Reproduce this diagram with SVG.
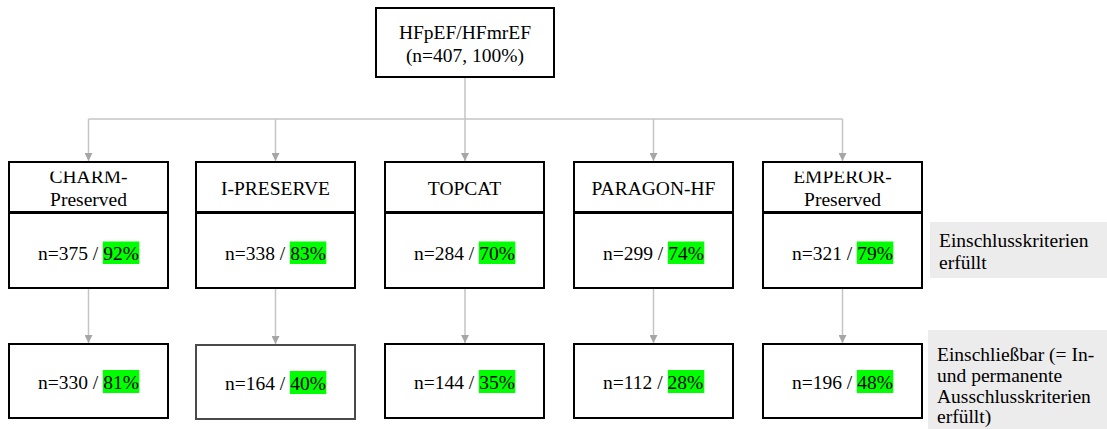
<svg xmlns="http://www.w3.org/2000/svg" width="1107" height="429" viewBox="0 0 1107 429">
  <defs>
    <style>
      .box { fill: #ffffff; stroke: #000000; stroke-width: 2; }
      .t { font-family: "Liberation Serif", "Times New Roman", serif; font-size: 19.5px; fill: #000000; }
      .c { text-anchor: middle; }
      .hl { fill: #00ff00; }
      .note { fill: #ececec; }
      .conn { fill: none; stroke: #c4c4c4; stroke-width: 1.5; }
    </style>
    <marker id="arr" viewBox="0 0 8 8" refX="8" refY="4" markerWidth="8" markerHeight="8" markerUnits="userSpaceOnUse" orient="auto">
      <path d="M0,0 L8,4 L0,8 z" fill="#a6a6a6"/>
    </marker>
    <clipPath id="hclip">
      <rect x="0" y="171.5" width="1107" height="45"/>
    </clipPath>
  </defs>

  <g id="connectors">
    <path class="conn" d="M465,77 V161" marker-end="url(#arr)"/>
    <path class="conn" d="M88.5,119 H842.5"/>
    <path class="conn" d="M88.5,119 V161" marker-end="url(#arr)"/>
    <path class="conn" d="M275.5,119 V161" marker-end="url(#arr)"/>
    <path class="conn" d="M653.5,119 V161" marker-end="url(#arr)"/>
    <path class="conn" d="M842.5,119 V161" marker-end="url(#arr)"/>
    <path class="conn" d="M88.5,288 V343" marker-end="url(#arr)"/>
    <path class="conn" d="M275.5,288 V344" marker-end="url(#arr)"/>
    <path class="conn" d="M465,288 V343" marker-end="url(#arr)"/>
    <path class="conn" d="M653.5,288 V343" marker-end="url(#arr)"/>
    <path class="conn" d="M842.5,288 V343" marker-end="url(#arr)"/>
  </g>

  <g id="root">
    <rect class="box" x="376" y="8" width="178" height="69"/>
    <text class="t c" x="465" y="39">HFpEF/HFmrEF</text>
    <text class="t c" x="465" y="62">(n=407, 100%)</text>
  </g>

  <!-- CHARM-Preserved -->
  <g id="charm-header">
    <rect class="box" x="9" y="162" width="159" height="50"/>
    <g clip-path="url(#hclip)">
      <text class="t c" x="88.5" y="183">CHARM-</text>
      <text class="t c" x="88.5" y="206">Preserved</text>
    </g>
  </g>
  <g id="charm-incl">
    <rect class="box" x="9" y="213" width="159" height="75"/>
    <rect class="hl" x="102.8" y="241.5" width="36.5" height="22.5"/>
    <text class="t" x="38" y="259.5">n=375 / 92%</text>
  </g>
  <g id="charm-elig">
    <rect class="box" x="9" y="344" width="159" height="74"/>
    <rect class="hl" x="102.8" y="370" width="36.5" height="23"/>
    <text class="t" x="38" y="389">n=330 / 81%</text>
  </g>

  <!-- I-PRESERVE -->
  <g id="ipreserve-header">
    <rect class="box" x="196" y="162" width="159" height="50"/>
    <text class="t c" x="275.5" y="195">I-PRESERVE</text>
  </g>
  <g id="ipreserve-incl">
    <rect class="box" x="196" y="213" width="159" height="75"/>
    <rect class="hl" x="289.8" y="241.5" width="36.5" height="22.5"/>
    <text class="t" x="225" y="259.5">n=338 / 83%</text>
  </g>
  <g id="ipreserve-elig">
    <rect class="box" x="196" y="345" width="159" height="74" style="stroke:#4a4a4a"/>
    <rect class="hl" x="289.8" y="371" width="36.5" height="23"/>
    <text class="t" x="225" y="390">n=164 / 40%</text>
  </g>

  <!-- TOPCAT -->
  <g id="topcat-header">
    <rect class="box" x="385" y="162" width="159" height="50"/>
    <text class="t c" x="464.5" y="195">TOPCAT</text>
  </g>
  <g id="topcat-incl">
    <rect class="box" x="385" y="213" width="159" height="75"/>
    <rect class="hl" x="478.8" y="241.5" width="36.5" height="22.5"/>
    <text class="t" x="414" y="259.5">n=284 / 70%</text>
  </g>
  <g id="topcat-elig">
    <rect class="box" x="385" y="344" width="159" height="74"/>
    <rect class="hl" x="478.8" y="370" width="36.5" height="23"/>
    <text class="t" x="414" y="389">n=144 / 35%</text>
  </g>

  <!-- PARAGON-HF -->
  <g id="paragon-header">
    <rect class="box" x="574" y="162" width="159" height="50"/>
    <text class="t c" x="653.5" y="195">PARAGON-HF</text>
  </g>
  <g id="paragon-incl">
    <rect class="box" x="574" y="213" width="159" height="75"/>
    <rect class="hl" x="667.8" y="241.5" width="36.5" height="22.5"/>
    <text class="t" x="603" y="259.5">n=299 / 74%</text>
  </g>
  <g id="paragon-elig">
    <rect class="box" x="574" y="344" width="159" height="74"/>
    <rect class="hl" x="667.8" y="370" width="36.5" height="23"/>
    <text class="t" x="603" y="389">n=112 / 28%</text>
  </g>

  <!-- EMPEROR-Preserved -->
  <g id="emperor-header">
    <rect class="box" x="763" y="162" width="159" height="50"/>
    <g clip-path="url(#hclip)">
      <text class="t c" x="842.5" y="183">EMPEROR-</text>
      <text class="t c" x="842.5" y="206">Preserved</text>
    </g>
  </g>
  <g id="emperor-incl">
    <rect class="box" x="763" y="213" width="159" height="75"/>
    <rect class="hl" x="856.8" y="241.5" width="36.5" height="22.5"/>
    <text class="t" x="792" y="259.5">n=321 / 79%</text>
  </g>
  <g id="emperor-elig">
    <rect class="box" x="763" y="344" width="159" height="74"/>
    <rect class="hl" x="856.8" y="370" width="36.5" height="23"/>
    <text class="t" x="792" y="389">n=196 / 48%</text>
  </g>

  <!-- Row labels -->
  <g id="label-incl">
    <rect class="note" x="930" y="222" width="177" height="56"/>
    <text class="t" x="939" y="247">Einschlusskriterien</text>
    <text class="t" x="939" y="269">erfüllt</text>
  </g>
  <g id="label-elig">
    <rect class="note" x="928" y="330" width="179" height="99"/>
    <text class="t" x="937" y="361">Einschließbar (= In-</text>
    <text class="t" x="937" y="382">und permanente</text>
    <text class="t" x="937" y="402.5">Ausschlusskriterien</text>
    <text class="t" x="937" y="423">erfüllt)</text>
  </g>
</svg>
